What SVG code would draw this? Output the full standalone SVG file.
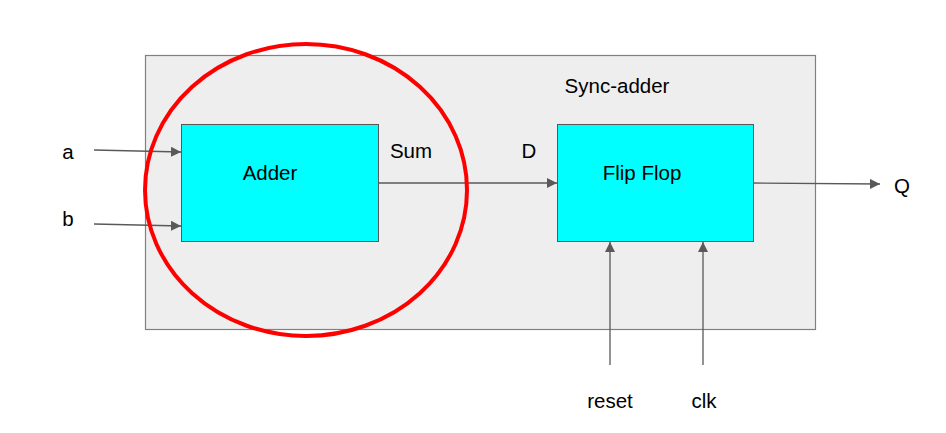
<svg xmlns="http://www.w3.org/2000/svg" width="946" height="433" viewBox="0 0 946 433">
<style>
text{font-family:"Liberation Sans",Arial,sans-serif;font-size:20.5px;fill:#000;text-anchor:middle;dominant-baseline:central}
.box{fill:#00ffff;stroke:#595959;stroke-width:1}
.c{stroke:#595959;stroke-width:1.3;fill:none;marker-end:url(#ah)}
</style>
<defs>
<marker id="ah" viewBox="0 0 10 10" refX="10" refY="5" markerWidth="10" markerHeight="10" markerUnits="userSpaceOnUse" orient="auto">
<path d="M0,0 L10,5 L0,10 z" fill="#595959"/>
</marker>
</defs>
<rect width="946" height="433" fill="#fff"/>
<g id="sync-adder">
<rect x="145.5" y="55.5" width="670" height="274" fill="#eeeeee" stroke="#808080" stroke-width="1.2"/>
<text x="617" y="85">Sync-adder</text>
</g>
<g id="adder">
<rect class="box" x="181.5" y="124.5" width="197" height="117"/>
<text x="270" y="172">Adder</text>
</g>
<g id="flipflop">
<rect class="box" x="557.5" y="124.5" width="196" height="117"/>
<text x="642" y="172">Flip Flop</text>
</g>
<g id="labels">
<text x="68" y="151">a</text>
<text x="68" y="218">b</text>
<text x="411" y="150">Sum</text>
<text x="529" y="150">D</text>
<text x="902" y="185">Q</text>
<text x="610" y="400">reset</text>
<text x="704" y="400">clk</text>
</g>
<g id="connectors">
<path class="c" d="M94,150 L181,152"/>
<path class="c" d="M94,224 L181,226"/>
<path class="c" d="M378,183 L557,183"/>
<path class="c" d="M753,183 L880,184"/>
<path class="c" d="M610,365 L610,242"/>
<path class="c" d="M703,365 L703,242"/>
</g>
<g id="highlight">
<ellipse cx="306" cy="190" rx="161" ry="146" fill="none" stroke="#ff0000" stroke-width="4"/>
</g>
</svg>
